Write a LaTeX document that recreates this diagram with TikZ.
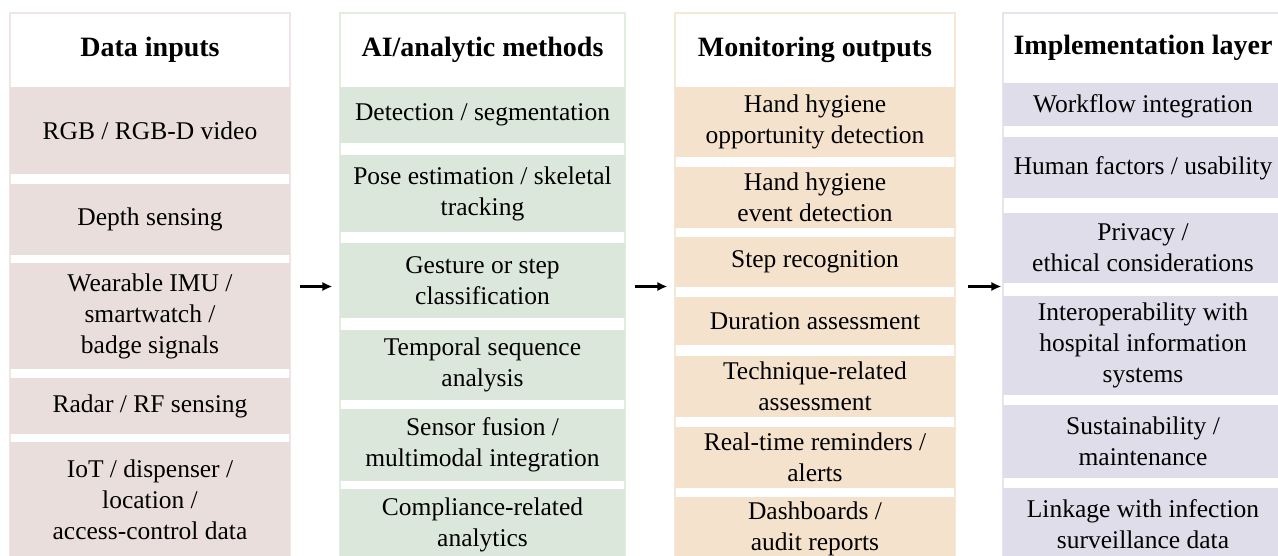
\documentclass[tikz,border=0pt]{standalone}
\usepackage{fontspec}
\setmainfont{Liberation Serif}
\usetikzlibrary{arrows.meta}

\definecolor{inFill}{RGB}{234,222,221}
\definecolor{inLine}{RGB}{240,228,228}
\definecolor{aiFill}{RGB}{220,231,219}
\definecolor{aiLine}{RGB}{226,236,224}
\definecolor{outFill}{RGB}{244,226,204}
\definecolor{outLine}{RGB}{246,231,214}
\definecolor{impFill}{RGB}{222,221,233}
\definecolor{impLine}{RGB}{229,229,240}

\tikzset{
  colbox/.style={draw=#1, line width=0.6pt, fill=white, minimum height=273.5pt, inner sep=0pt},
  head/.style={font=\bfseries\fontsize{14}{17}\selectfont, align=center},
  cell/.style={fill=#1, inner sep=0pt, align=center, font=\fontsize{12.75}{15.5}\selectfont},
  flow/.style={-{Latex[length=5pt,width=4.6pt]}, line width=1.1pt, shorten <=4.5pt, shorten >=3.5pt}
}

\begin{document}
\begin{tikzpicture}[x=0.5pt,y=-0.5pt]
\clip (0,0) rectangle (1278,556);
\fill[white] (0,0) rectangle (1278,556);
% column outlines
\node[colbox=inLine, minimum width=140pt] (c1) at (150,286.5) {};
\node[colbox=aiLine, minimum width=142.5pt] (c2) at (482.5,286.5) {};
\node[colbox=outLine, minimum width=140pt] (c3) at (815,286.5) {};
\node[colbox=impLine, minimum width=140pt] (c4) at (1143,286.5) {};
% headers
\node[head] (hd1) at (150,50) {Data inputs};
\node[head] (hd2) at (482.5,50) {AI/analytic methods};
\node[head] (hd3) at (815,50) {Monitoring outputs};
\node[head] (hd4) at (1143,48) {Implementation layer};
% data inputs
\node[cell=inFill, minimum width=140pt, minimum height=43.5pt] (in1) at (150,130.5) {RGB / RGB-D video};
\node[cell=inFill, minimum width=140pt, minimum height=35.5pt] (in2) at (150,219.5) {Depth sensing};
\node[cell=inFill, minimum width=140pt, minimum height=53pt] (in3) at (150,316) {Wearable IMU /\\ smartwatch /\\ badge signals};
\node[cell=inFill, minimum width=140pt, minimum height=28pt] (in4) at (150,406) {Radar / RF sensing};
\node[cell=inFill, minimum width=140pt, minimum height=58pt] (in5) at (150,500) {IoT / dispenser /\\ location /\\ access-control data};
% AI/analytic methods
\node[cell=aiFill, minimum width=142.5pt, minimum height=28pt] (ai1) at (482.5,115) {Detection / segmentation};
\node[cell=aiFill, minimum width=142.5pt, minimum height=38.5pt] (ai2) at (482.5,193.5) {Pose estimation / skeletal\\ tracking};
\node[cell=aiFill, minimum width=142.5pt, minimum height=37.5pt] (ai3) at (482.5,280.5) {Gesture or step\\ classification};
\node[cell=aiFill, minimum width=142.5pt, minimum height=35pt] (ai4) at (482.5,365) {Temporal sequence\\ analysis};
\node[cell=aiFill, minimum width=142.5pt, minimum height=36pt] (ai5) at (482.5,445) {Sensor fusion /\\ multimodal integration};
\node[cell=aiFill, minimum width=142.5pt, minimum height=35.5pt] (ai6) at (482.5,524.5) {Compliance-related\\ analytics};
% monitoring outputs
\node[cell=outFill, minimum width=140pt, minimum height=35pt] (out1) at (815,122) {Hand hygiene\\ opportunity detection};
\node[cell=outFill, minimum width=140pt, minimum height=30.5pt] (out2) at (815,197.5) {Hand hygiene\\ event detection};
\node[cell=outFill, minimum width=140pt, minimum height=25pt] (out3) at (815,262) {Step recognition};
\node[cell=outFill, minimum width=140pt, minimum height=24pt] (out4) at (815,321) {Duration assessment};
\node[cell=outFill, minimum width=140pt, minimum height=30.5pt] (out5) at (815,386.5) {Technique-related\\ assessment};
\node[cell=outFill, minimum width=140pt, minimum height=30.5pt] (out6) at (815,457.5) {Real-time reminders /\\ alerts};
\node[cell=outFill, minimum width=140pt, minimum height=31.5pt] (out7) at (815,528.5) {Dashboards /\\ audit reports};
% implementation layer
\node[cell=impFill, minimum width=140pt, minimum height=21.5pt, text depth=1pt] (imp1) at (1143,104.5) {Workflow integration};
\node[cell=impFill, minimum width=140pt, minimum height=30.5pt, text depth=2pt] (imp2) at (1143,167.5) {Human factors / usability};
\node[cell=impFill, minimum width=140pt, minimum height=35pt] (imp3) at (1143,248) {Privacy /\\ ethical considerations};
\node[cell=impFill, minimum width=140pt, minimum height=49.5pt] (imp4) at (1143,345.5) {Interoperability with\\ hospital information\\ systems};
\node[cell=impFill, minimum width=140pt, minimum height=36.5pt] (imp5) at (1143,441.5) {Sustainability /\\ maintenance};
\node[cell=impFill, minimum width=140pt, minimum height=36pt] (imp6) at (1143,524) {Linkage with infection\\ surveillance data};
% arrows between columns
\draw[flow] (c1.east) -- (c2.west);
\draw[flow] (c2.east) -- (c3.west);
\draw[flow, shorten <=6pt, shorten >=0.5pt] (c3.east) -- (c4.west);
\end{tikzpicture}
\end{document}
